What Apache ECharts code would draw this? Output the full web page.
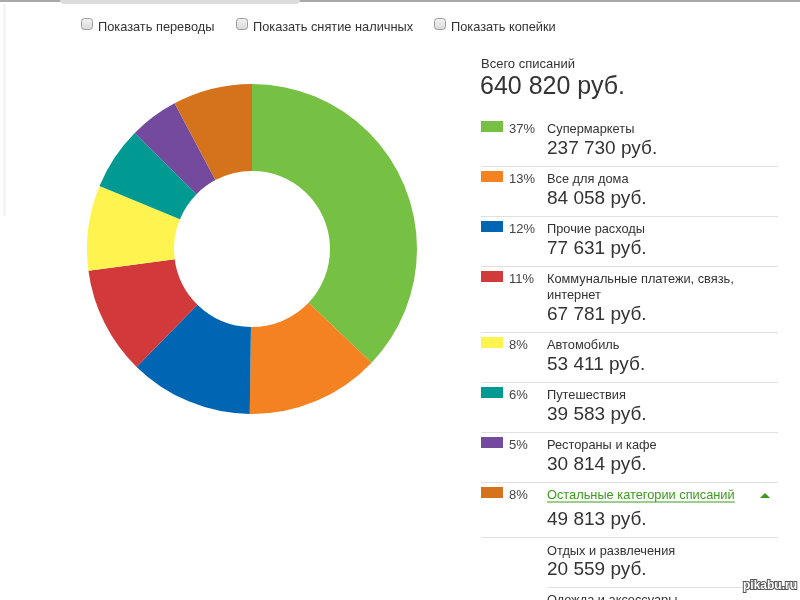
<!DOCTYPE html>
<html>
<head>
<meta charset="utf-8">
<script src="https://cdn.jsdelivr.net/npm/echarts@6/dist/echarts.min.js"></script>
<style>
html,body{margin:0;padding:0;background:#fff;}
#chart{width:800px;height:600px;}
</style>
</head>
<body>
<div id="chart"></div>
<script>
// ---- data ----
var categories = ['Супермаркеты', 'Все для дома', 'Прочие расходы', 'Коммунальные платежи, связь, интернет', 'Автомобиль', 'Путешествия', 'Рестораны и кафе', 'Остальные категории списаний'];
var values = [237730, 84058, 77631, 67781, 53411, 39583, 30814, 49813];
var colors = ['#76c043', '#f58220', '#0066b3', '#d2393a', '#fff44f', '#009a93', '#744a9e', '#d5731c'];
var subCategories = ['Отдых и развлечения', 'Одежда и аксессуары'];
var subValues = [20559, null];
var toggles = ['Показать переводы', 'Показать снятие наличных', 'Показать копейки'];
var totalLabel = 'Всего списаний';
var totalValue = 640820;
var currency = 'руб.';

// ---- helpers ----
var FONT = '"Liberation Sans", Arial, sans-serif';
function fmt(v) {
  return String(v).replace(/\B(?=(\d{3})+(?!\d))/g, ' ') + ' ' + currency;
}
var mctx = document.createElement('canvas').getContext('2d');
function measure(t, size) { mctx.font = size + 'px ' + FONT; return mctx.measureText(t).width; }
function wrap(text, size, maxW) {
  var words = text.split(' '), lines = [], cur = '';
  words.forEach(function (w) {
    var t = cur ? cur + ' ' + w : w;
    if (measure(t, size) > maxW && cur) { lines.push(cur); cur = w; } else { cur = t; }
  });
  if (cur) lines.push(cur);
  return lines;
}

var g = [];

// page chrome
g.push({ type: 'rect', shape: { x: 0, y: 0, width: 800, height: 2 }, style: { fill: '#a9a9a9' }, silent: true });
g.push({ type: 'rect', shape: { x: 60, y: 0, width: 240, height: 4, r: [0, 0, 4, 4] }, style: { fill: '#dcdcdc' }, silent: true });
g.push({ type: 'rect', shape: { x: 3, y: 4, width: 3, height: 212 }, style: { fill: '#f6f6f6' }, silent: true });

// toggles
var toggleX = [81, 236, 434];
toggles.forEach(function (t, i) {
  g.push({ type: 'rect', shape: { x: toggleX[i] + 0.5, y: 18.5, width: 11, height: 11, r: 3 },
    style: { fill: { type: 'linear', x: 0, y: 0, x2: 0, y2: 1, colorStops: [{ offset: 0, color: '#f4f4f4' }, { offset: 1, color: '#d8d8d8' }] }, stroke: '#9a9a9a', lineWidth: 1 }, silent: true });
  g.push({ type: 'text', style: { text: t, x: toggleX[i] + 17, y: 27, font: '12.8px ' + FONT, fill: '#333', textVerticalAlign: 'middle' }, silent: true });
});

// totals
g.push({ type: 'text', style: { text: totalLabel, x: 481, y: 64, font: '13px ' + FONT, fill: '#333', textVerticalAlign: 'middle' }, silent: true });
g.push({ type: 'text', style: { text: fmt(totalValue), x: 480, y: 87, font: '25px ' + FONT, fill: '#333', textVerticalAlign: 'middle' }, silent: true });

// legend rows
var y = 129;
categories.forEach(function (name, i) {
  var last = i === categories.length - 1;
  var pct = Math.round(values[i] / totalValue * 100) + '%';
  g.push({ type: 'rect', shape: { x: 481, y: y - 8, width: 22, height: 11 }, style: { fill: colors[i] }, silent: true });
  g.push({ type: 'text', style: { text: pct, x: 509, y: y, font: '13px ' + FONT, fill: '#444', textVerticalAlign: 'middle' }, silent: true });
  var lines = last ? [name] : wrap(name, 13, 215);
  lines.forEach(function (ln, k) {
    g.push({ type: 'text', style: { text: ln, x: 547, y: y + k * 16, font: '12.8px ' + FONT, fill: last ? '#3b9c1c' : '#333', textVerticalAlign: 'middle' }, silent: true });
  });
  if (last) {
    var w = measure(name, 12.8);
    g.push({ type: 'line', shape: { x1: 547, y1: y + 7, x2: 547 + w, y2: y + 7 }, style: { stroke: '#3b9c1c', lineWidth: 1 }, silent: true });
    g.push({ type: 'polygon', shape: { points: [[760, y + 3], [770, y + 3], [765, y - 2]] }, style: { fill: '#3b9c1c' }, silent: true });
  }
  var extra = (lines.length - 1) * 16 + (last ? 5 : 0);
  g.push({ type: 'text', style: { text: fmt(values[i]), x: 547, y: y + 20 + extra, font: '19px ' + FONT, fill: '#333', textVerticalAlign: 'middle' }, silent: true });
  var sep = y + 37 + extra;
  g.push({ type: 'rect', shape: { x: 481, y: sep, width: 297, height: 1 }, style: { fill: '#e0e0e0' }, silent: true });
  y = sep + 13;
});
// sub categories of "Остальные"
y += 1;
subCategories.forEach(function (name, i) {
  g.push({ type: 'text', style: { text: name, x: 547, y: y, font: '12.8px ' + FONT, fill: '#333', textVerticalAlign: 'middle' }, silent: true });
  if (subValues[i] != null) {
    g.push({ type: 'text', style: { text: fmt(subValues[i]), x: 547, y: y + 19, font: '19px ' + FONT, fill: '#333', textVerticalAlign: 'middle' }, silent: true });
    var sep = y + 36;
    g.push({ type: 'rect', shape: { x: 547, y: sep, width: 231, height: 1 }, style: { fill: '#e0e0e0' }, silent: true });
    y = sep + 13;
  }
});

// watermark
g.push({ type: 'text', style: { text: 'pikabu.ru', x: 797, y: 586, font: 'bold 12px ' + FONT, fill: '#fff', stroke: '#555', lineWidth: 2, textAlign: 'right', textVerticalAlign: 'middle' }, silent: true });

var chart = echarts.init(document.getElementById('chart'), null, { renderer: 'canvas' });
chart.setOption({
  animation: false,
  backgroundColor: '#fff',
  series: [{
    type: 'pie',
    center: [252, 249],
    radius: [78, 165],
    startAngle: 90,
    clockwise: true,
    avoidLabelOverlap: false,
    label: { show: false },
    labelLine: { show: false },
    emphasis: { scale: false },
    itemStyle: { borderWidth: 0 },
    data: categories.map(function (c, i) { return { name: c, value: values[i], itemStyle: { color: colors[i] } }; })
  }],
  graphic: g
});
</script>
</body>
</html>
